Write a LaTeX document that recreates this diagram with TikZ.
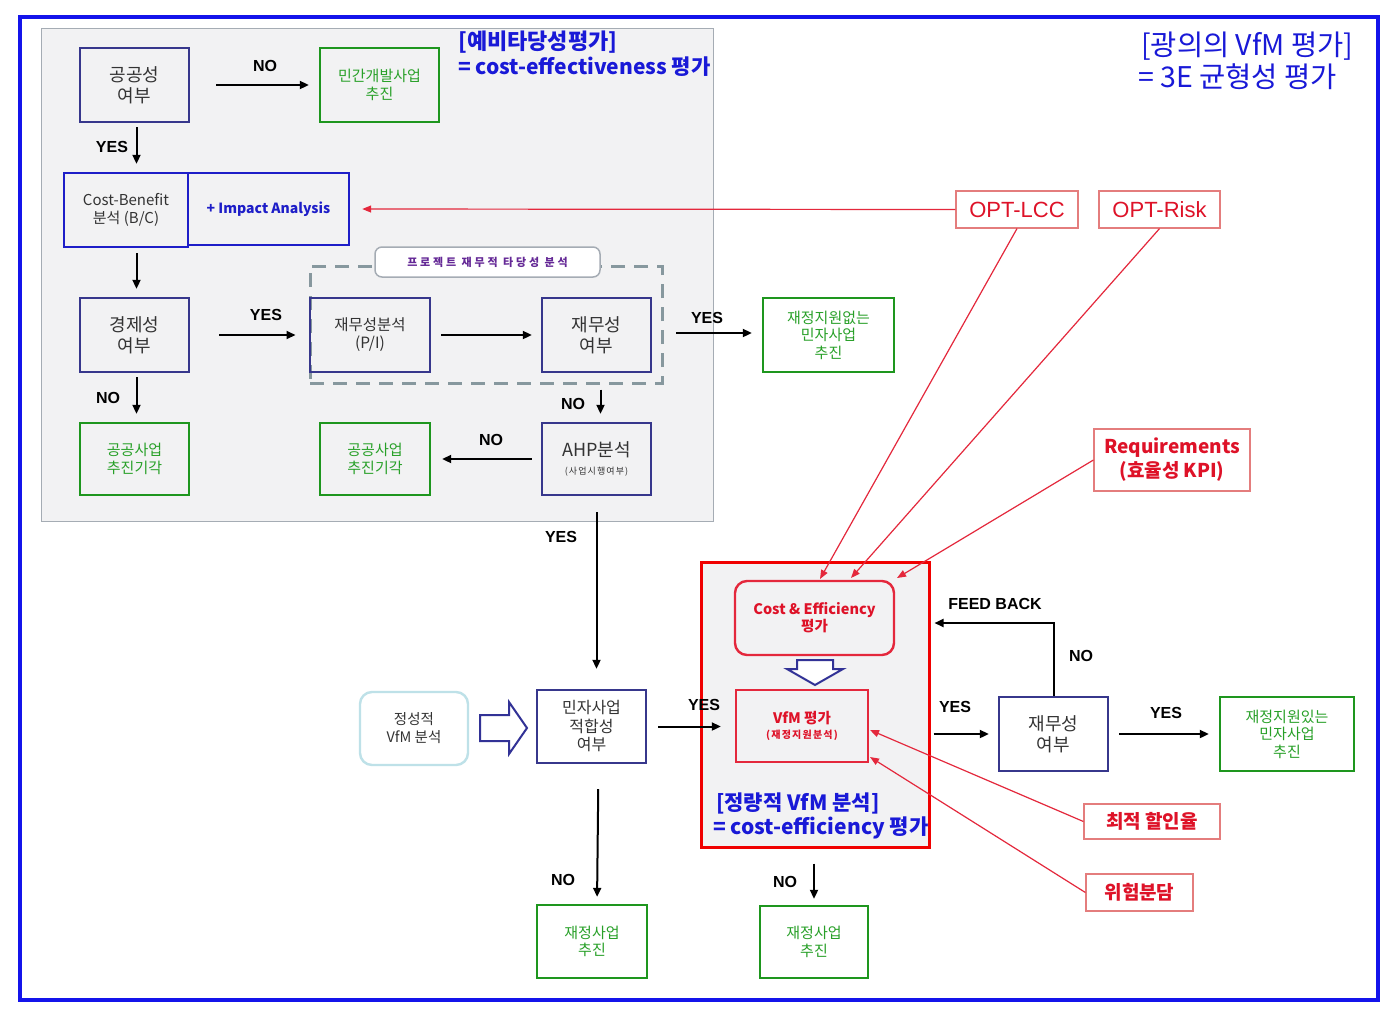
\documentclass[tikz,border=0pt]{standalone}
\usepackage{fontspec}
\setmainfont{Noto Sans CJK KR}
\newfontfamily\latf{Liberation Sans}
\usetikzlibrary{arrows.meta}
\definecolor{navyb}{RGB}{55,55,140}
\definecolor{cbblue}{RGB}{30,30,200}
\definecolor{outerb}{RGB}{20,20,235}
\definecolor{titleb}{RGB}{25,25,215}
\definecolor{greenb}{RGB}{30,150,30}
\definecolor{greent}{RGB}{40,160,40}
\definecolor{panelf}{RGB}{242,242,243}
\definecolor{panelb}{RGB}{165,172,180}
\definecolor{dashc}{RGB}{135,152,158}
\definecolor{redl}{RGB}{228,40,60}
\definecolor{redt}{RGB}{222,18,40}
\definecolor{redlb}{RGB}{228,125,125}
\definecolor{redp}{RGB}{240,0,0}
\definecolor{cyanb}{RGB}{190,225,232}
\definecolor{hollow}{RGB}{50,50,150}
\definecolor{purp}{RGB}{100,40,150}
\begin{document}
\begin{tikzpicture}[x=1pt,y=-1pt,
  rc/.style args={#1/#2/#3/#4}{at={({(#1+#3)/2},{(#2+#4)/2})}, minimum width={(#3)-(#1)}, minimum height={(#4)-(#2)}, inner sep=0pt},
  bx/.style={draw, line width=2.4pt, inner sep=0pt, align=center},
  nb/.style={bx, draw=navyb, text=black!80, font=\fontsize{18}{21}\selectfont},
  gb/.style={bx, draw=greenb, text=greent, font=\fontsize{15}{17.5}\selectfont},
  lab/.style={font=\latf\bfseries\fontsize{16}{18}\selectfont},
  arr/.style={-{Triangle[length=9pt,width=8pt]}, line width=2pt},
  rl/.style={draw=redl, line width=1.2pt, -{Triangle[length=9pt,width=7pt]}, redl},
  rlab/.style={draw=redlb, line width=1.2pt, text=redt, inner sep=0pt, align=center, fill=white},
  ttl/.style={text=titleb, anchor=west, inner sep=0pt}
]
\useasboundingbox (0,0) rectangle (1399,1009);
\fill[white] (0,0) rectangle (1399,1009);
\draw[outerb, line width=3.2pt] (20,17) rectangle (1378,1000);
\draw[panelb, fill=panelf, line width=1pt] (41,28) rectangle (713,521);
% red panel
\node[draw=redp, line width=3pt, fill=panelf, rc=701/562/929/847] (rp) {};

% titles
\node[ttl, font=\bfseries\fontsize{22}{24}\selectfont] (t1) at (458,42) {[예비타당성평가]};
\node[ttl, font=\bfseries\fontsize{21}{24}\selectfont] (t2) at (458,67) {= cost-effectiveness 평가};
\node[ttl, font=\fontsize{28.5}{30}\selectfont] (t3) at (1141,46) {[광의의 VfM 평가]};
\node[ttl, font=\fontsize{28.5}{30}\selectfont] (t4) at (1138,77) {= 3E 균형성 평가};
\node[ttl, font=\bfseries\fontsize{21}{24}\selectfont] (t5) at (716,803) {[정량적 VfM 분석]};
\node[ttl, font=\bfseries\fontsize{21}{24}\selectfont] (t6) at (713,828) {= cost-efficiency 평가};

% dashed region
\node[draw=dashc, dash pattern=on 14pt off 9pt, line width=3pt, rc=310/266/662/383] (dsh) {};
\node[draw=panelb, fill=white, rounded corners=7pt, line width=1.5pt, rc=375/247/600/277,
  text=purp, font=\bfseries\fontsize{11}{12}\selectfont\addfontfeatures{LetterSpace=26}] (dlab) {프로젝트 재무적 타당성 분석};

% boxes
\node[nb, rc=80/48/189/122] (gong) {공공성\\여부};
\node[gb, rc=320/48/439/122] (min) {민간개발사업\\추진};
\node[bx, draw=cbblue, rc=64/173/188/247, font=\fontsize{15}{18}\selectfont, text=black!80] (cb) {Cost-Benefit\\분석 (B/C)};
\node[bx, draw=cbblue, rc=188/173/349/245, font=\bfseries\fontsize{14}{16}\selectfont, text=cbblue] (ia) {+ Impact Analysis};
\node[nb, rc=80/298/189/372] (econ) {경제성\\여부};
\node[nb, rc=310/298/430/372, font=\fontsize{15.5}{18}\selectfont] (fa) {재무성분석\\(P/I)};
\node[nb, rc=542/298/651/372] (fy) {재무성\\여부};
\node[gb, rc=763/298/894/372] (nosub) {재정지원없는\\민자사업\\추진};
\node[gb, rc=80/423/189/495] (rej1) {공공사업\\추진기각};
\node[gb, rc=320/423/430/495] (rej2) {공공사업\\추진기각};
\node[nb, rc=542/423/651/495] (ahp) {AHP분석\\[-3pt]{\fontsize{9}{10}\selectfont\addfontfeatures{LetterSpace=12} (사업시행여부)}};
\node[nb, rc=537/690/646/763, font=\fontsize{16}{18.5}\selectfont] (minja) {민자사업\\적합성\\여부};
\node[draw=cyanb, line width=2.4pt, rounded corners=12pt, align=center, fill=white,
  rc=360/692/468/765, font=\fontsize{14.5}{18}\selectfont, text=black!80] (qual) {정성적\\VfM 분석};
\node[gb, rc=537/905/647/978] (jj1) {재정사업\\추진};
\node[gb, rc=760/906/868/978] (jj2) {재정사업\\추진};
\node[bx, draw=redl, rounded corners=12pt, rc=735/581/894/655, text=redt, font=\bfseries\fontsize{14.5}{17}\selectfont, fill=panelf] (ce) {Cost \& Efficiency\\평가};
\node[bx, draw=redl, rc=736/690/868/762, text=redt, font=\bfseries\fontsize{14.5}{17}\selectfont] (vfm) {VfM 평가\\[-2pt]{\fontsize{10}{11}\selectfont\addfontfeatures{LetterSpace=12} (재정지원분석)}};
\node[nb, rc=999/697/1108/771] (fin2) {재무성\\여부};
\node[gb, rc=1220/697/1354/771] (withsub) {재정지원있는\\민자사업\\추진};

% red labels
\node[rlab, rc=956/191/1078/228, font=\latf\fontsize{22}{24}\selectfont] (lcc) {OPT-LCC};
\node[rlab, rc=1099/191/1220/228, font=\latf\fontsize{22}{24}\selectfont] (risk) {OPT-Risk};
\node[rlab, rc=1094/429/1250/491, font=\bfseries\fontsize{19}{24}\selectfont] (req) {Requirements\\(효율성 KPI)};
\node[rlab, rc=1084/804/1220/839, font=\bfseries\fontsize{19}{22}\selectfont] (disc) {최적 할인율};
\node[rlab, rc=1086/874/1193/911, font=\bfseries\fontsize{19}{22}\selectfont] (share) {위험분담};

% hollow arrows
\draw[hollow, line width=2pt, fill=white, line join=miter] (480,715) -- (509,715) -- (509,702) -- (527,728) -- (509,754) -- (509,741) -- (480,741) -- cycle;
\draw[hollow, line width=2pt, fill=white, line join=miter] (797,660) -- (833,660) -- (833,669) -- (843,669) -- (815,685) -- (787,669) -- (797,669) -- cycle;

% black connectors
\draw[arr, shorten <=26pt, shorten >=10pt] (gong.east) -- (min.west);
\draw[arr, shorten <=4pt, shorten >=8pt] ([xshift=2pt]gong.south) -- ([xshift=2pt]gong.south |- cb.north);
\draw[arr, shorten <=5pt, shorten >=8pt] ([xshift=2pt]econ.north |- cb.south) -- ([xshift=2pt]econ.north);
\draw[arr, shorten <=29pt, shorten >=13pt] (econ.east) -- (econ.east -| dsh.west);
\draw[arr, shorten <=10pt, shorten >=9pt] (fa.east) -- (fy.west);
\draw[arr, shorten <=24pt, shorten >=10pt] ([yshift=2pt]fy.east) -- ([yshift=2pt]fy.east -| nosub.west);
\draw[arr, shorten <=4pt, shorten >=8pt] ([xshift=2pt]econ.south) -- ([xshift=2pt]rej1.north);
\draw[arr, shorten <=5pt, shorten >=8pt] ([xshift=4pt]ahp.north |- dsh.south) -- ([xshift=4pt]ahp.north);
\draw[arr, shorten <=9pt, shorten >=11pt] (ahp.west) -- (ahp.west -| rej2.east);
\draw[arr, shorten <=16pt, shorten >=20pt] (ahp.south) -- (ahp.south |- minja.north);
\draw[arr, shorten <=11pt, shorten >=14pt] (minja.east) -- (minja.east -| vfm.west);
\draw[arr, shorten <=25pt, shorten >=7pt] ([xshift=7pt]minja.south) -- ([xshift=5pt]jj1.north);
\draw[arr, shorten <=15pt, shorten >=6pt] (jj2.north |- rp.south) -- (jj2.north);
\draw[arr, shorten >=4pt] (fin2.north) |- ([yshift=-5pt]rp.east |- ce.east);
\draw[arr, shorten <=3pt, shorten >=9pt] (fin2.west -| rp.east) -- (fin2.west);
\draw[arr, shorten <=10pt, shorten >=10pt] (fin2.east) -- (withsub.west);

% red connectors
\coordinate (c1) at (820,579);
\coordinate (c2) at (851,578);
\coordinate (c3) at (897,578);
\coordinate (v1) at (870,730);
\coordinate (v2) at (870,757);
\draw[rl, shorten >=12pt] (lcc.west) -- (ia.east);
\draw[rl] (lcc.south) -- (c1);
\draw[rl] (risk.south) -- (c2);
\draw[rl] (req.west) -- (c3);
\draw[rl] (disc.west) -- (v1);
\draw[rl] (share.west) -- (v2);

% labels
\node[lab] (l1) at (265,66) {NO};
\node[lab] (l2) at (112,147) {YES};
\node[lab] (l3) at (266,315) {YES};
\node[lab] (l4) at (707,318) {YES};
\node[lab] (l5) at (108,398) {NO};
\node[lab] (l6) at (573,404) {NO};
\node[lab] (l7) at (491,440) {NO};
\node[lab] (l8) at (561,537) {YES};
\node[lab] (l9) at (704,705) {YES};
\node[lab] (l10) at (563,880) {NO};
\node[lab] (l11) at (785,882) {NO};
\node[lab] (l12) at (995,604) {FEED BACK};
\node[lab] (l13) at (1081,656) {NO};
\node[lab] (l14) at (955,707) {YES};
\node[lab] (l15) at (1166,713) {YES};
\end{tikzpicture}
\end{document}
